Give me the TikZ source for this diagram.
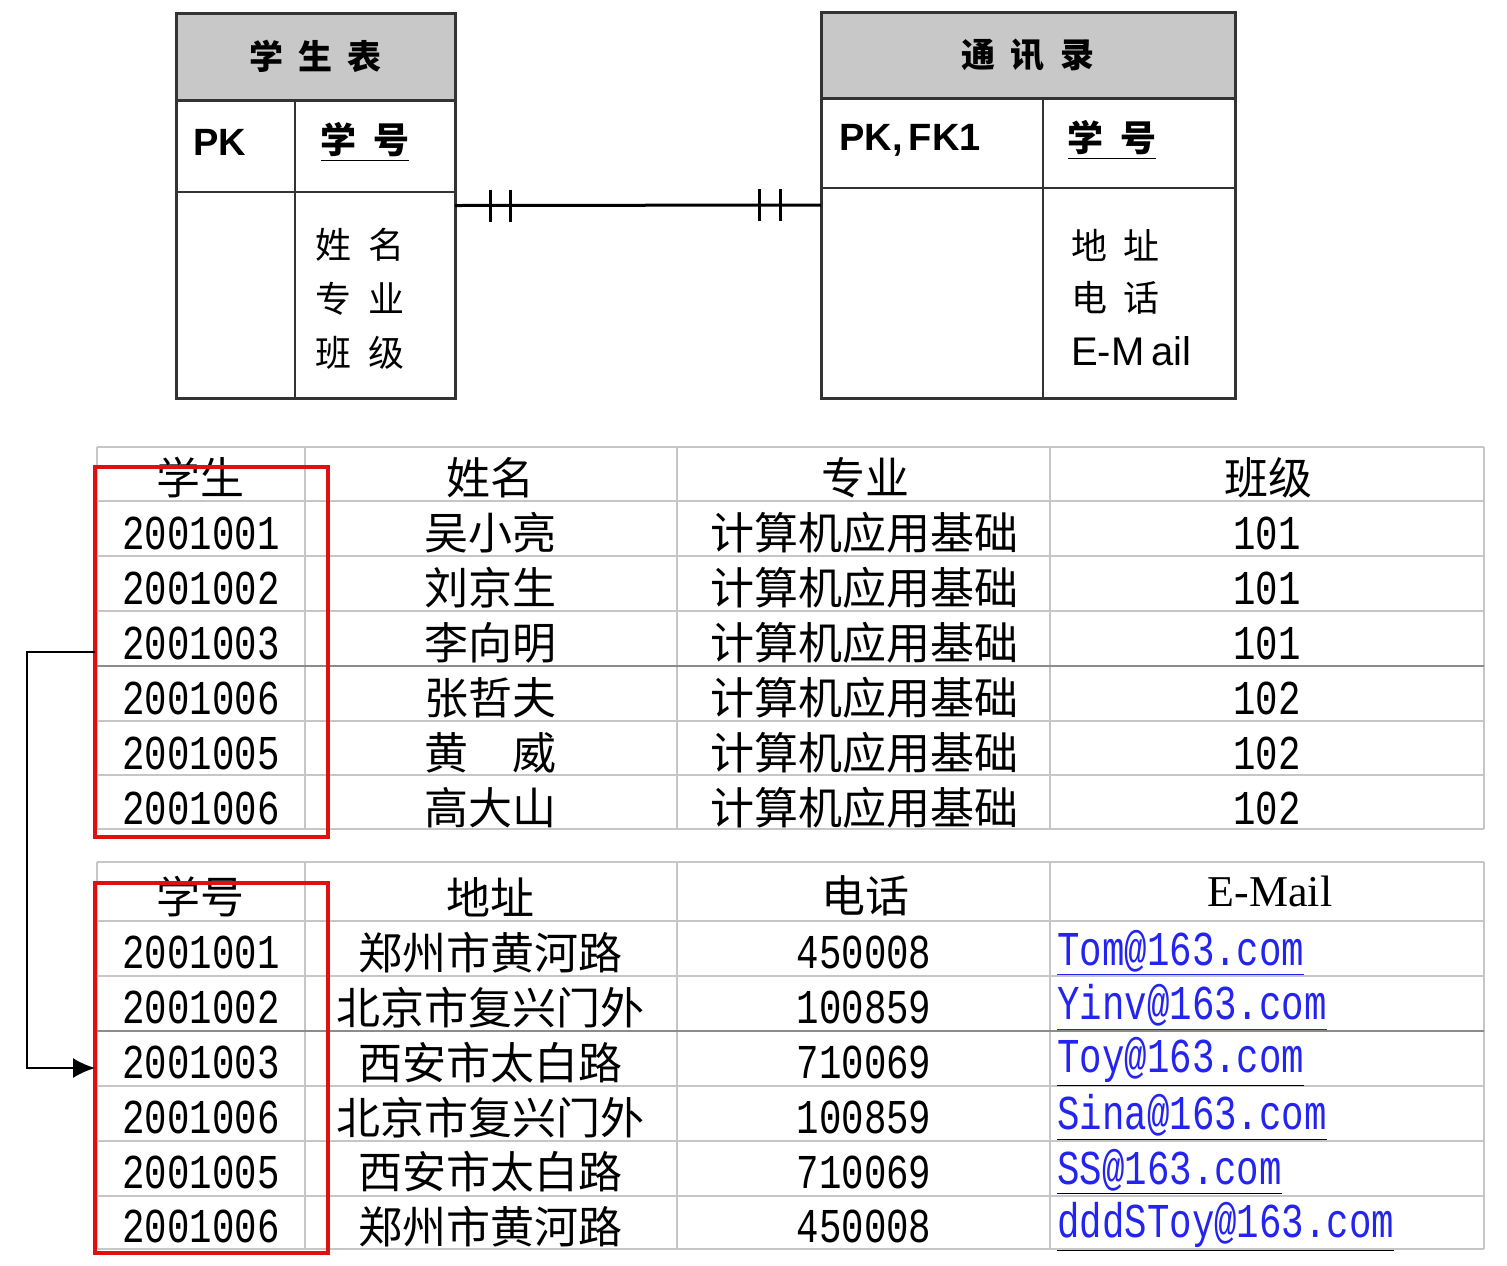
\documentclass[tikz,border=0pt]{standalone}
\usepackage{fontspec}
\usepackage{graphicx}
\setmainfont{Liberation Serif}
\newfontfamily\cjk{Noto Sans CJK SC}
\newfontfamily\mono{Liberation Mono}
\newfontfamily\lsans{Liberation Sans}
\usetikzlibrary{arrows.meta}
\definecolor{hdgray}{HTML}{C8C8C8}
\definecolor{erline}{HTML}{333333}
\definecolor{gridgray}{HTML}{C6C6C6}
\definecolor{griddark}{HTML}{8C8C8C}
\definecolor{keyred}{HTML}{E01010}
\definecolor{maillink}{HTML}{2424F0}
\newcommand\gp{\hspace{0.45em}}
\newcommand\tallnum[1]{\scalebox{1}[1.3]{#1}}
\newcommand\mail[1]{\textcolor{maillink}{\underline{\tallnum{#1}}}}
\newcommand\mailb[1]{\underline{\textcolor{maillink}{\tallnum{#1}}}}

\begin{document}
\begin{tikzpicture}[x=0.5pt,y=-0.5pt,>=Latex,
  erbox/.style={draw=erline,line width=1.5pt,inner sep=0pt,outer sep=0pt},
  erhead/.style={erbox,fill=hdgray,font=\cjk\bfseries\fontsize{17}{20}\selectfont},
  erkey/.style={font=\lsans\bfseries\fontsize{19}{22}\selectfont},
  erattr/.style={font=\cjk\fontsize{18}{20}\selectfont},
  erinner/.style={draw=erline,line width=1.2pt},
  rel/.style={draw=black,line width=1.5pt},
  grid/.style={draw=gridgray,line width=1pt},
  cell/.style={font=\cjk\fontsize{22}{24}\selectfont,inner sep=0pt},
  num/.style={font=\mono\fontsize{18.7}{22}\selectfont,inner sep=0pt},
  keybox/.style={draw=keyred,line width=2pt,inner sep=0pt,outer sep=0pt},
  link/.style={line width=1pt,-{Latex[length=11pt,width=10pt]}}]
\useasboundingbox (0,0) rectangle (1507,1265);

% entity boxes
\node[erbox,minimum width=139.5pt,minimum height=192.5pt] (stu) at (315.5,205.5) {};
\node[erhead,minimum width=139.5pt,minimum height=43.5pt,anchor=north] (stuhd) at (stu.north) {学\gp 生\gp 表};
\draw[erinner] (stuhd.south west) ++(0,92) -- ++(279,0);
\draw[erinner] (stuhd.south west) ++(119,0) -- ++(0,298);
\node[erkey] (stupk) at (220,142) {PK};
\node[erattr,font=\cjk\bfseries\fontsize{18}{20}\selectfont] (stuid) at (365,142) {\underline{学\gp 号}};
\foreach \t [count=\i] in {姓\gp 名,专\gp 业,班\gp 级}
  \node[erattr] (stua\i) at (360,{191+54*\i}) {\t};

\node[erbox,minimum width=207pt,minimum height=193pt] (txl) at (1028,205) {};
\node[erhead,minimum width=207pt,minimum height=43pt,anchor=north] (txlhd) at (txl.north) {通\gp 讯\gp 录};
\draw[erinner] (txlhd.south west) ++(0,90) -- ++(414,0);
\draw[erinner] (txlhd.south west) ++(222,0) -- ++(0,300);
\node[erkey] (txlpk) at (910,140) {PK,\,FK1};
\node[erattr,font=\cjk\bfseries\fontsize{18}{20}\selectfont] (txlid) at (1112,140) {\underline{学\gp 号}};
\foreach \t [count=\i] in {地\gp 址,电\gp 话,{\lsans\fontsize{20}{22}\selectfont E-M\,ail}}
  \node[erattr,anchor=west] (txla\i) at (1064,{192+53*\i}) {\t};

% one to one
\draw[rel] (stu.east) -- (txl.west);
\draw[rel] (stu.east) ++(35,-16) -- ++(0,32);
\draw[rel] (stu.east) ++(55,-16) -- ++(0,32);
\draw[rel] (txl.west) ++(-62,-16) -- ++(0,32);
\draw[rel] (txl.west) ++(-41,-16) -- ++(0,32);

% table 1
\foreach \x in {97,305,677,1050,1484} \draw[grid] (\x,447) -- (\x,829);
\foreach \y in {447,501,556,611,721,775,829} \draw[grid] (97,\y) -- (1484,\y);
\draw[grid,draw=griddark] (97,666) -- (1484,666);
\node[cell] (t1h1) at (200,478) {学生};
\node[cell] (t1h2) at (490,478) {姓名};
\node[cell] (t1h3) at (865,478) {专业};
\node[cell] (t1h4) at (1268,478) {班级};
\foreach \id/\nm/\cl [count=\i] in {2001001/吴小亮/101,2001002/刘京生/101,2001003/李向明/101,
    2001006/张哲夫/102,2001005/黄\hspace{1em}威/102,2001006/高大山/102} {
  \node[num] (s\i) at (201,{478+55*\i}) {\tallnum{\id}};
  \node[cell] (n\i) at (490,{478+55*\i}) {\nm};
  \node[cell] (m\i) at (864,{478+55*\i}) {计算机应用基础};
  \node[num] (c\i) at (1267,{478+55*\i}) {\tallnum{\cl}};
}

% table 2
\foreach \x in {97,305,677,1050,1484} \draw[grid] (\x,862) -- (\x,1249);
\foreach \y in {862,921,976,1086,1141,1196,1249} \draw[grid] (97,\y) -- (1484,\y);
\draw[grid,draw=griddark] (97,1031) -- (1484,1031);
\node[cell] (t2h1) at (200,897) {学号};
\node[cell] (t2h2) at (490,897) {地址};
\node[cell] (t2h3) at (865,896) {电话};
\node[font=\fontsize{22}{24}\selectfont,inner sep=0pt] (t2h4) at (1270,891) {E-Mail};
\foreach \id/\ad/\ph/\em [count=\i] in {2001001/郑州市黄河路/450008/\mail{Tom@163.com},
    2001002/北京市复兴门外/100859/\mail{Yinv@163.com},
    2001003/西安市太白路/710069/\mailb{Toy@163.com},
    2001006/北京市复兴门外/100859/\mailb{Sina@163.com},
    2001005/西安市太白路/710069/\mailb{SS@163.com},
    2001006/郑州市黄河路/450008/\mailb{dddSToy@163.com}} {
  \node[num] (k\i) at (201,{898+54.8*\i}) {\tallnum{\id}};
  \node[cell] (a\i) at (490,{898+54.8*\i}) {\ad};
  \node[num] (p\i) at (864,{898+54.8*\i}) {\tallnum{\ph}};
  \node[num,anchor=west] (e\i) at (1057,{898+54.8*\i}) {\em};
}

% key columns
\node[keybox,minimum width=116.5pt,minimum height=185pt] (keys1) at (211.5,652) {};
\node[keybox,minimum width=116.5pt,minimum height=185pt] (keys2) at (211.5,1068) {};
\draw[link] (keys1.west) -- ++(-68,0) |- (keys2.west);
\end{tikzpicture}
\end{document}
